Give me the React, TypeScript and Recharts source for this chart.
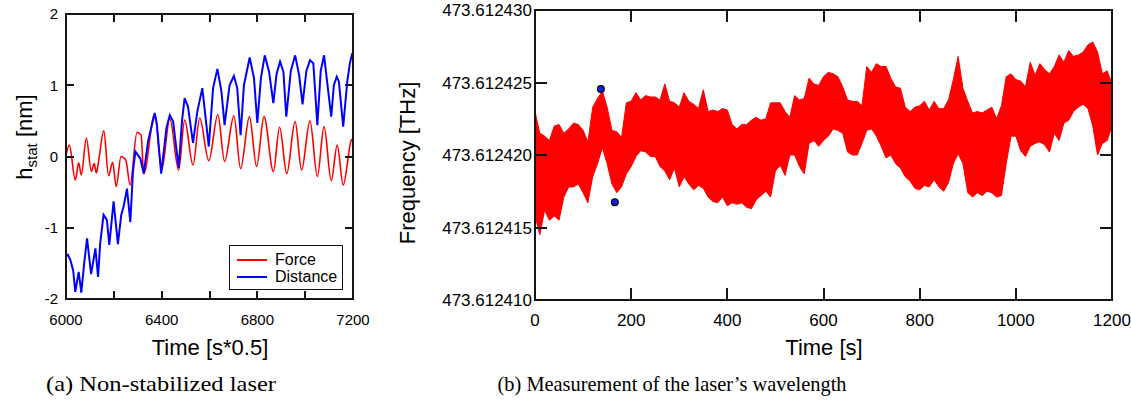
import React from 'react';
import { LineChart, Line, XAxis, YAxis, Legend, ComposedChart, Area, Scatter, Label } from 'recharts';

const FONT = '"Liberation Sans", Arial, Helvetica, sans-serif';
const SERIF = '"Liberation Serif", "Times New Roman", serif';

// ---------- (a) Non-stabilized laser ----------
const forceTime = [6000, 6014, 6039, 6053, 6064, 6085, 6106, 6118, 6127, 6137, 6158, 6178, 6195, 6210, 6230, 6250, 6268, 6297, 6314, 6325, 6371, 6400, 6434, 6471, 6496, 6531, 6559, 6597, 6635, 6663, 6702, 6730, 6767, 6797, 6828, 6867, 6893, 6923, 6958, 6985, 7020, 7051, 7079, 7109, 7134, 7159, 7193, 7200];
const forceValue = [0.02, 0.16, -0.33, -0.09, -0.26, 0.26, -0.21, -0.1, -0.23, -0.05, 0.36, -0.27, -0.08, -0.42, 0.0, -0.05, -0.4, 0.34, 0.3, -0.24, 0.6, -0.19, 0.53, -0.19, 0.51, -0.12, 0.54, -0.06, 0.59, -0.07, 0.57, -0.17, 0.56, -0.14, 0.56, -0.21, 0.41, -0.24, 0.49, -0.19, 0.5, -0.28, 0.42, -0.34, 0.16, -0.4, 0.23, 0.25];

const distanceTime = [6000, 6008, 6018, 6030, 6039, 6053, 6064, 6076, 6088, 6105, 6123, 6134, 6143, 6157, 6171, 6181, 6199, 6217, 6231, 6241, 6255, 6269, 6280, 6290, 6311, 6325, 6343, 6371, 6380, 6398, 6420, 6434, 6448, 6471, 6485, 6496, 6510, 6531, 6549, 6570, 6597, 6615, 6633, 6650, 6663, 6684, 6702, 6716, 6730, 6744, 6768, 6786, 6800, 6815, 6831, 6849, 6867, 6880, 6895, 6909, 6921, 6940, 6958, 6975, 6989, 7005, 7020, 7034, 7051, 7065, 7079, 7090, 7109, 7120, 7132, 7141, 7159, 7176, 7187, 7197];
const distanceValue = [-1.4, -1.38, -1.45, -1.6, -1.9, -1.62, -1.91, -1.5, -1.15, -1.65, -1.29, -1.69, -1.22, -0.82, -0.89, -1.24, -0.63, -1.23, -0.82, -0.7, -0.45, -0.92, -0.21, 0.07, -0.03, -0.24, 0.21, 0.61, 0.45, -0.24, 0.4, 0.58, 0.49, -0.16, 0.5, 0.82, 0.7, 0.19, 0.63, 0.96, 0.14, 0.96, 1.23, 0.91, 0.44, 1.0, 1.13, 0.96, 0.3, 1.0, 1.39, 1.1, 0.47, 1.1, 1.42, 1.19, 0.75, 1.15, 1.33, 1.19, 0.56, 1.2, 1.42, 1.14, 0.73, 1.2, 1.35, 1.31, 0.44, 1.2, 1.42, 1.1, 0.56, 1.0, 1.12, 1.05, 0.42, 1.05, 1.31, 1.45];

const leftXDomain = [6000, 7200];
const leftYDomain = [-2, 2];
const leftXTicks = [6000, 6200, 6400, 6600, 6800, 7000, 7200];
const leftXLabels = [6000, 6400, 6800, 7200];
const leftYTicks = [-2, -1, 0, 1, 2];
const legendOrder = ['Force', 'Distance'];

// ---------- (b) Measurement of the laser's wavelength ----------
// frequency values: offset from 473.612400 THz, in MHz (1e-6 THz)
const freqTime = [0, 10, 20, 30, 40, 50, 60, 70, 80, 90, 100, 110, 120, 130, 140, 150, 160, 170, 180, 190, 200, 210, 220, 230, 240, 250, 260, 270, 280, 290, 300, 310, 320, 330, 340, 350, 360, 370, 380, 390, 400, 410, 420, 430, 440, 450, 460, 470, 480, 490, 500, 510, 520, 530, 540, 550, 560, 570, 580, 590, 600, 610, 620, 630, 640, 650, 660, 670, 680, 690, 700, 710, 720, 730, 740, 750, 760, 770, 780, 790, 800, 810, 820, 830, 840, 850, 860, 870, 880, 890, 900, 910, 920, 930, 940, 950, 960, 970, 980, 990, 1000, 1010, 1020, 1030, 1040, 1050, 1060, 1070, 1080, 1090, 1100, 1110, 1120, 1130, 1140, 1150, 1160, 1170, 1180, 1190, 1200];
const freqHigh = [23.0, 21.5, 21.3, 21.0, 22.0, 22.1, 21.5, 21.8, 22.2, 22.1, 21.7, 20.9, 23.3, 23.9, 24.4, 23.3, 21.7, 21.6, 21.2, 23.6, 23.7, 24.3, 23.8, 24.1, 24.0, 24.0, 23.8, 24.9, 23.7, 23.6, 23.3, 24.3, 23.7, 23.5, 23.2, 24.5, 23.0, 23.1, 23.0, 23.2, 23.1, 22.1, 21.8, 22.1, 22.1, 22.4, 22.6, 22.4, 22.5, 23.6, 23.6, 23.6, 23.0, 22.6, 24.1, 23.8, 23.9, 25.3, 24.9, 24.8, 25.4, 25.7, 25.6, 25.4, 24.7, 23.8, 23.7, 23.7, 23.4, 26.1, 25.7, 26.3, 26.1, 26.1, 25.3, 24.7, 24.6, 23.3, 23.0, 23.3, 23.4, 23.7, 23.1, 23.7, 23.2, 23.2, 23.8, 25.2, 26.8, 24.6, 23.7, 22.9, 23.0, 22.9, 23.1, 23.3, 22.5, 23.4, 25.4, 25.6, 25.2, 25.1, 24.7, 26.4, 25.5, 26.3, 25.9, 25.6, 26.1, 26.9, 26.4, 27.2, 26.8, 26.9, 27.1, 27.6, 27.8, 27.1, 25.6, 25.8, 24.9];
const freqLow = [15.8, 14.5, 16.2, 15.5, 15.8, 15.5, 17.1, 17.8, 17.8, 18.0, 17.4, 16.7, 18.5, 19.4, 20.5, 19.4, 18.0, 17.4, 17.8, 18.7, 19.2, 19.9, 20.3, 20.2, 19.9, 19.9, 19.2, 18.9, 18.3, 19.1, 17.8, 18.5, 18.0, 17.6, 17.9, 17.7, 17.1, 16.8, 16.7, 17.1, 16.5, 16.7, 16.6, 16.7, 16.4, 16.3, 16.9, 17.2, 17.5, 17.1, 18.9, 19.3, 18.6, 20.0, 20.0, 19.2, 18.7, 20.8, 21.0, 20.6, 21.0, 21.3, 21.8, 21.7, 21.5, 20.2, 20.0, 20.0, 20.8, 21.7, 21.8, 21.3, 20.6, 19.8, 20.0, 19.4, 19.1, 18.5, 18.2, 17.7, 17.6, 17.9, 17.8, 18.3, 17.8, 17.5, 18.1, 19.4, 20.1, 19.4, 17.4, 17.1, 17.4, 17.2, 17.5, 17.4, 17.1, 17.2, 19.4, 21.3, 21.3, 20.3, 19.9, 20.6, 20.8, 20.9, 20.7, 20.2, 21.5, 21.0, 22.2, 22.4, 23.0, 23.3, 23.5, 23.2, 22.0, 20.0, 20.8, 21.0, 22.0];
const markerTime = [137, 166];
const markerValue = [24.55, 16.75];

const rightXDomain = [0, 1200];
const rightYDomain = [10, 30];
const rightXTicks = [0, 200, 400, 600, 800, 1000, 1200];
const rightYTicks = [10, 15, 20, 25, 30];

const forceData = forceTime.map((t, i) => ({ t, v: forceValue[i] }));
const distanceData = distanceTime.map((t, i) => ({ t, v: distanceValue[i] }));
const freqData = freqTime.map((t, i) => ({ t, lo: freqLow[i], hi: freqHigh[i] }));
const markerData = markerTime.map((t, i) => ({ t, v: markerValue[i] }));

const AX = '#151515';
const AXW = 2;

// plot boxes that follow from the chart sizes / margins / axis sizes below
const LEFT_BOX = { x0: 26 + 40, x1: 370 - 17, y0: 14, y1: 370 - 41 - 30 };
const RIGHT_OFFSET = 380;
const RIGHT_BOX = { x0: RIGHT_OFFSET + 55 + 100, x1: RIGHT_OFFSET + 751 - 19, y0: 10, y1: 370 - 40 - 30 };

type Side = 'bottom' | 'left';
const makeTick = (side: Side, fontSize: number, fmt: (v: number) => string) => (props: any) => {
  const label = fmt(props.payload.value);
  if (!label) return <g />;
  if (side === 'bottom') {
    return <text x={props.x} y={props.y} dy="0.71em" textAnchor="middle" fontSize={fontSize} fontFamily={FONT} fill="#000">{label}</text>;
  }
  return <text x={props.x} y={props.y} dy="0.355em" textAnchor="end" fontSize={fontSize} fontFamily={FONT} fill="#000">{label}</text>;
};

const leftBottomTick = makeTick('bottom', 15, (v) => (leftXLabels.includes(v) ? String(v) : ''));
const leftLeftTick = makeTick('left', 15, (v) => String(v));
const rightBottomTick = makeTick('bottom', 17, (v) => String(v));
const rightLeftTick = makeTick('left', 17, (v) => (473.6124 + v / 1e6).toFixed(6));

// box frame with inward tick marks on all four sides
const Frame = ({ box, xDomain, yDomain, xTicks, yTicks, len }: any) => {
  const sx = (v: number) => box.x0 + ((v - xDomain[0]) / (xDomain[1] - xDomain[0])) * (box.x1 - box.x0);
  const sy = (v: number) => box.y1 - ((v - yDomain[0]) / (yDomain[1] - yDomain[0])) * (box.y1 - box.y0);
  const h = AXW / 2;
  const base: React.CSSProperties = { position: 'absolute', background: AX };
  const marks: any[] = [];
  xTicks.forEach((v: number, i: number) => {
    const x = sx(v);
    marks.push(<div key={`xb${i}`} style={{ ...base, left: x - h, top: box.y1 - len, width: AXW, height: len }} />);
    marks.push(<div key={`xt${i}`} style={{ ...base, left: x - h, top: box.y0, width: AXW, height: len }} />);
  });
  yTicks.forEach((v: number, i: number) => {
    const y = sy(v);
    marks.push(<div key={`yl${i}`} style={{ ...base, left: box.x0, top: y - h, width: len, height: AXW }} />);
    marks.push(<div key={`yr${i}`} style={{ ...base, left: box.x1 - len, top: y - h, width: len, height: AXW }} />);
  });
  return (
    <>
      <div style={{ position: 'absolute', left: box.x0 - h, top: box.y0 - h, width: box.x1 - box.x0 + AXW, height: box.y1 - box.y0 + AXW, border: `${AXW}px solid ${AX}`, boxSizing: 'border-box' }} />
      {marks}
    </>
  );
};

const LegendBox = (props: any) => {
  const payload = [...(props.payload || [])].sort(
    (a: any, b: any) => legendOrder.indexOf(a.value) - legendOrder.indexOf(b.value)
  );
  return (
    <div style={{ width: 112, height: 43, border: '1.6px solid #111', background: '#fff', boxSizing: 'content-box', fontFamily: FONT, fontSize: 16, color: '#000' }}>
      {payload.map((p: any, i: number) => (
        <div key={i} style={{ display: 'flex', alignItems: 'center', height: 17, marginTop: i === 0 ? 5 : 0 }}>
          <div style={{ width: 30, height: 0, borderTop: `2px solid ${p.color}`, marginLeft: 7, marginRight: 8 }} />
          <span style={{ lineHeight: '17px' }}>{p.value}</span>
        </div>
      ))}
    </div>
  );
};

const HStatLabel = () => (
  <text transform="translate(32,137) rotate(-90)" textAnchor="middle" fontFamily={FONT} fontSize={22} fill="#000">
    h<tspan fontSize={15} dy={5}>stat</tspan>
    <tspan dy={-5}> [nm]</tspan>
  </text>
);

const LeftXTitle = () => (
  <text x={210} y={355} textAnchor="middle" fontFamily={FONT} fontSize={22} fill="#000">Time [s*0.5]</text>
);

const FreqLabel = () => (
  <text transform="translate(35,163) rotate(-90)" textAnchor="middle" fontFamily={FONT} fontSize={22} fill="#000">Frequency [THz]</text>
);

const RightXTitle = () => (
  <text x={444} y={355} textAnchor="middle" fontFamily={FONT} fontSize={22} fill="#000">Time [s]</text>
);

const Dot = (props: any) => (
  <circle cx={props.cx} cy={props.cy} r={3.4} fill="#1020e0" stroke="#000" strokeWidth={1.2} />
);

export default function App() {
  return (
    <div style={{ position: 'absolute', left: 0, top: 0, width: 1131, height: 405, background: '#fff', overflow: 'hidden' }}>
      <div style={{ position: 'absolute', left: 0, top: 0 }}>
        <LineChart width={370} height={370} margin={{ top: 14, right: 17, bottom: 41, left: 26 }}>
          <XAxis xAxisId="b" type="number" dataKey="t" domain={leftXDomain} allowDataOverflow ticks={leftXTicks} interval={0}
            tickSize={0} tickMargin={15} height={30} axisLine={false} tickLine={false} tick={leftBottomTick}>
            <Label content={LeftXTitle} />
          </XAxis>
          <YAxis yAxisId="l" type="number" domain={leftYDomain} allowDataOverflow ticks={leftYTicks} interval={0}
            tickSize={0} tickMargin={8} width={40} axisLine={false} tickLine={false} tick={leftLeftTick}>
            <Label content={HStatLabel} />
          </YAxis>
          <Line xAxisId="b" yAxisId="l" data={forceData} dataKey="v" name="Force" type="monotone" stroke="#ff0000" strokeWidth={1.6} dot={false} isAnimationActive={false} />
          <Line xAxisId="b" yAxisId="l" data={distanceData} dataKey="v" name="Distance" type="linear" stroke="#0000ff" strokeWidth={2} dot={false} isAnimationActive={false} />
          <Legend layout="horizontal" verticalAlign="middle" align="center" content={LegendBox}
            wrapperStyle={{ left: 229, top: 245, width: 116, height: 47 }} />
        </LineChart>
      </div>
      <div style={{ position: 'absolute', left: RIGHT_OFFSET, top: 0 }}>
        <ComposedChart width={751} height={370} margin={{ top: 10, right: 19, bottom: 40, left: 55 }} data={freqData}>
          <XAxis xAxisId="b" type="number" dataKey="t" domain={rightXDomain} allowDataOverflow ticks={rightXTicks} interval={0}
            tickSize={0} tickMargin={14} height={30} axisLine={false} tickLine={false} tick={rightBottomTick}>
            <Label content={RightXTitle} />
          </XAxis>
          <YAxis yAxisId="l" type="number" domain={rightYDomain} allowDataOverflow ticks={rightYTicks} interval={0}
            tickSize={0} tickMargin={3} width={100} axisLine={false} tickLine={false} tick={rightLeftTick}>
            <Label content={FreqLabel} />
          </YAxis>
          <Area xAxisId="b" yAxisId="l" type="linear" dataKey={(d: any) => [d.lo, d.hi]} stroke="#ff0000" strokeWidth={1} fill="#ff0000" fillOpacity={1} dot={false} activeDot={false} isAnimationActive={false} />
          <Scatter xAxisId="b" yAxisId="l" data={markerData} dataKey="v" shape={Dot} isAnimationActive={false} />
        </ComposedChart>
      </div>
      <Frame box={LEFT_BOX} xDomain={leftXDomain} yDomain={leftYDomain} xTicks={leftXTicks} yTicks={leftYTicks} len={8} />
      <Frame box={RIGHT_BOX} xDomain={rightXDomain} yDomain={rightYDomain} xTicks={rightXTicks} yTicks={rightYTicks} len={12} />
      <svg width={1131} height={405} style={{ position: 'absolute', left: 0, top: 0, pointerEvents: 'none' }}>
        <text x={161} y={391} textAnchor="middle" fontFamily={SERIF} fontSize={21} fill="#000" textLength={230} lengthAdjust="spacingAndGlyphs">(a) Non-stabilized laser</text>
        <text x={672} y={391} textAnchor="middle" fontFamily={SERIF} fontSize={21} fill="#000" textLength={349} lengthAdjust="spacingAndGlyphs">(b) Measurement of the laser’s wavelength</text>
      </svg>
    </div>
  );
}
